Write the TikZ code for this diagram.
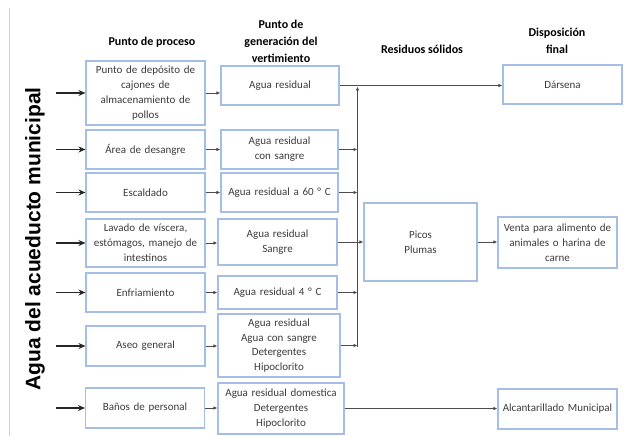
\documentclass[tikz,border=0pt]{standalone}
\usepackage{fontspec}
\setmainfont{Carlito}
\newfontfamily\arialfont{Liberation Sans}
\usetikzlibrary{arrows.meta,calc}
\definecolor{boxblue}{RGB}{165,190,232}
\definecolor{txtgray}{RGB}{60,60,60}
\definecolor{framegray}{RGB}{210,210,210}
\begin{document}
\begin{tikzpicture}[x=1pt,y=-1pt,
  box/.style={draw=boxblue,line width=1.1pt,fill=white,align=center,inner sep=1pt,
    text=txtgray,font=\fontsize{11}{14.8}\selectfont},
  hdr/.style={align=center,font=\fontsize{12}{17}\selectfont\bfseries},
  inarrow/.style={draw=black!85,line width=1.3pt,-{Stealth[length=7pt,width=6pt]}},
  thin/.style={draw=black!70,line width=0.9pt,-{Latex[length=4pt,width=3.5pt]}},
  thinline/.style={draw=black!70,line width=0.9pt}]
\useasboundingbox (0,0) rectangle (624,436);
\fill[white] (0,0) rectangle (624,436);
% left frame line
\coordinate (fa) at (9.5,8);
\coordinate (fb) at (9.5,436);
\draw[framegray,line width=0.8pt] (fa) -- (fb);
% vertical label
\node[rotate=90,font=\arialfont\fontsize{21}{24}\selectfont\bfseries] (lbl) at (35,239) {Agua del acueducto municipal};
% headers
\node[hdr] (h1) at (152,42) {Punto de proceso};
\node[hdr] (h2) at (281,41) {Punto de\\generación del\\vertimiento};
\node[hdr] (h3) at (422,49) {Residuos sólidos};
\node[hdr] (h4) at (557,40.5) {Disposición\\final};
% process column
\node[box,minimum width=119pt,minimum height=64pt,text width=116pt] (p1) at (145.5,93) {Punto de depósito de\\cajones de\\almacenamiento de\\pollos};
\node[box,minimum width=119pt,minimum height=39pt,text width=116pt] (p2) at (145.5,149.5) {Área de desangre};
\node[box,minimum width=119pt,minimum height=39pt,text width=116pt] (p3) at (145.5,192.5) {Escaldado};
\node[box,minimum width=119pt,minimum height=48pt,text width=116pt] (p4) at (145.5,243) {Lavado de víscera,\\estómagos, manejo de\\intestinos};
\node[box,minimum width=119pt,minimum height=39pt,text width=116pt] (p5) at (145.5,292.5) {Enfriamiento};
\node[box,minimum width=119pt,minimum height=40pt,text width=116pt] (p6) at (145.5,346) {Aseo general};
\node[box,minimum width=119pt,minimum height=40pt,text width=116pt] (p7) at (145,408) {Baños de personal};
% generation column
\node[box,minimum width=118pt,minimum height=39pt,text width=115pt] (g1) at (280,85.5) {Agua residual};
\node[box,minimum width=117pt,minimum height=39pt,text width=114pt] (g2) at (279.5,149.5) {Agua residual\\con sangre};
\node[box,minimum width=117pt,minimum height=39pt,text width=114pt] (g3) at (279.5,192.5) {Agua residual a 60 ° C};
\node[box,minimum width=119pt,minimum height=46pt,text width=116pt] (g4) at (277.5,242) {Agua residual\\Sangre};
\node[box,minimum width=119pt,minimum height=33pt,text width=116pt] (g5) at (277.5,292.5) {Agua residual 4 ° C};
\node[box,minimum width=122pt,minimum height=63pt,text width=119pt] (g6) at (279,345.5) {Agua residual\\Agua con sangre\\Detergentes\\Hipoclorito};
\node[box,minimum width=126pt,minimum height=51pt,text width=123pt] (g7) at (281,408.5) {Agua residual domestica\\Detergentes\\Hipoclorito};
% residues & final
\node[box,minimum width=113pt,minimum height=78pt,text width=110pt] (r1) at (420.5,242) {Picos\\Plumas};
\node[box,minimum width=119pt,minimum height=39pt,text width=116pt] (d1) at (562.5,84.5) {Dársena};
\node[box,minimum width=119pt,minimum height=51pt,text width=116pt] (d2) at (557.5,242.5) {Venta para alimento de\\animales o harina de\\carne};
\node[box,minimum width=119pt,minimum height=40pt,text width=116pt] (d3) at (557.5,409) {Alcantarillado Municipal};
% input arrows
\foreach \n in {p1,p2,p3,p4,p5,p6,p7}{
  \draw[inarrow] ($(\n.west)+(-29,0)$) -- (\n.west);
}
% process -> generation
\foreach \a/\b in {p1/g1,p2/g2,p3/g3,p4/g4,p5/g5,p6/g6,p7/g7}{
  \draw[thin] (\a.east) -- (\a.east -| \b.west);
}
% collector bus
\coordinate (bustop) at (357.5,85.5);
\coordinate (busbot) at (357.5,347);
\draw[thin] (busbot) -- ($(bustop)+(0,1)$);
\draw[thin] (g1.east) -- (g1.east -| d1.west);
\foreach \n in {g2,g3,g5,g6}{
  \draw[thin] (\n.east) -- (\n.east -| bustop);
}
\draw[thin] (g4.east) -- (g4.east -| r1.west);
\draw[thin] (r1.east) -- (r1.east -| d2.west);
\draw[thin] (g7.east) -- (g7.east -| d3.west);
\end{tikzpicture}
\end{document}
